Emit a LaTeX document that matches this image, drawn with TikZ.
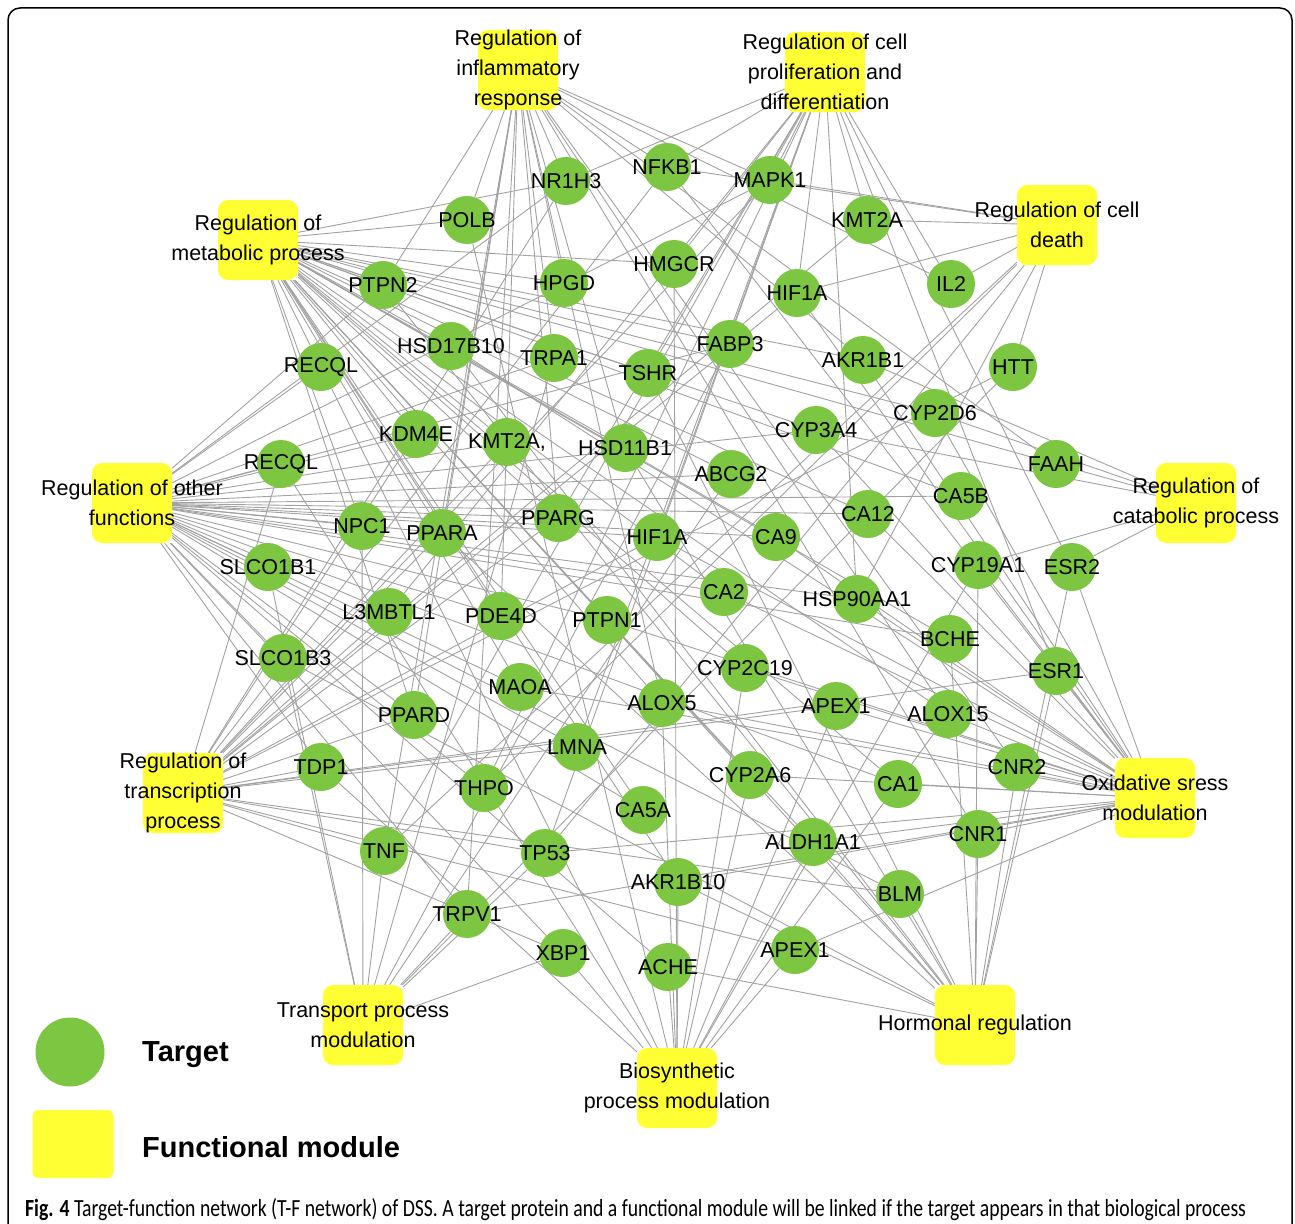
\documentclass[tikz,border=0pt]{standalone}
\usepackage{fontspec}
\setmainfont{Liberation Sans}
\newfontfamily\capfont{Carlito}
\usetikzlibrary{backgrounds}
\definecolor{targetgreen}{RGB}{125,198,66}
\definecolor{moduleyellow}{RGB}{255,255,51}
\definecolor{linkgray}{RGB}{162,162,162}
\begin{document}
\begin{tikzpicture}[x=1pt,y=-1pt]
% Set styles for Target and Module nodes
\tikzstyle{Target}=[circle,fill=targetgreen,inner sep=0pt,minimum size=48pt,font=\fontsize{21.5}{24}\selectfont]
\tikzstyle{Module}=[rectangle,rounded corners=10pt,fill=moduleyellow,minimum width=80pt,minimum height=80pt,inner sep=0pt]
\tikzstyle{Modtext}=[align=center,inner sep=0pt,font=\fontsize{21.5}{30}\selectfont]
\tikzstyle{Link}=[draw=linkgray,line width=0.9pt]
\tikzstyle{Legend}=[anchor=west,inner sep=0pt,font=\fontsize{29}{34}\selectfont\bfseries]
\useasboundingbox (0,0) rectangle (1295,1223);
\clip (0,0) rectangle (1295,1223);
\draw[line width=1.5pt,rounded corners=12pt] (8,8) rectangle (1292,1270);
% Functional modules
\foreach \n/\x/\y/\t in {
    inf/518/70/{Regulation of\\inflammatory\\response},
    pro/825/72/{Regulation of cell\\proliferation and\\differentiation},
    dth/1057/225/{Regulation of cell\\death},
    met/258/240/{Regulation of\\metabolic process},
    oth/132/503/{Regulation of other\\functions},
    cat/1196/503/{Regulation of\\catabolic process},
    trn/183/793/{Regulation of\\transcription\\process},
    oxi/1155/798/{Oxidative sress\\modulation},
    tra/363/1025/{Transport process\\modulation},
    bio/677/1088/{Biosynthetic\\process modulation},
    hor/975/1025/{Hormonal regulation}}
  {\node[Module] at (\x,\y) (\n) {};
   \node[Modtext] at (\x,\y) (\n-txt) {\t};}
% Targets
\foreach [count=\i] \x/\y/\t in {
    566/181/NR1H3, 667/167/NFKB1, 770/180/MAPK1, 467/220/POLB,
    867/220/KMT2A, 383/285/PTPN2, 564/283/HPGD, 674/264/HMGCR,
    797/293/HIF1A, 951/284/IL2, 321/367/RECQL, 451/346/HSD17B10,
    554/358/TRPA1, 648/373/TSHR, 730/344/FABP3, 863/360/AKR1B1,
    1013/367/HTT, 935/413/CYP2D6, 416/434/KDM4E, 507/442/{KMT2A,},
    625/448/HSD11B1, 816/430/CYP3A4, 1056/464/FAAH, 281/464/RECQL,
    731/474/ABCG2, 961/496/CA5B, 868/514/CA12, 362/526/NPC1,
    442/533/PPARA, 558/518/PPARG, 657/537/HIF1A, 776/537/CA9,
    978/565/CYP19A1, 1072/567/ESR2, 268/567/SLCO1B1, 724/592/CA2,
    857/599/HSP90AA1, 389/612/L3MBTL1, 501/616/PDE4D, 607/620/PTPN1,
    950/639/BCHE, 283/658/SLCO1B3, 1056/671/ESR1, 745/668/CYP2C19,
    520/687/MAOA, 836/706/APEX1, 948/714/ALOX15, 662/703/ALOX5,
    414/715/PPARD, 577/747/LMNA, 1017/767/CNR2, 898/784/CA1,
    750/775/CYP2A6, 321/767/TDP1, 484/788/THPO, 643/810/CA5A,
    978/834/CNR1, 813/842/ALDH1A1, 384/851/TNF, 545/853/TP53,
    678/882/AKR1B10, 900/894/BLM, 467/914/TRPV1, 795/950/APEX1,
    668/967/ACHE, 563/953/XBP1}
  \node[Target] at (\x,\y) (t\i) {\makebox[0pt]{\t}};
% Edges
\begin{scope}[on background layer]
\foreach \i/\ms in {
    1/{inf,met,oth,trn,pro}, 2/{inf,pro,dth,trn,oxi}, 3/{pro,dth,inf,oth,trn},
    4/{met,inf,bio}, 5/{dth,pro,trn}, 6/{met,inf,oth,hor}, 7/{inf,met},
    8/{met,bio,pro}, 9/{pro,dth,oxi,trn}, 10/{inf,pro,dth}, 11/{met,oth,bio},
    12/{met,hor,oxi}, 13/{inf,tra,oth}, 14/{hor,pro,met}, 15/{tra,met,oth},
    16/{met,oxi,cat,inf}, 17/{dth,tra,trn}, 18/{met,cat,oxi}, 19/{trn,oth,met},
    20/{trn,oth,met}, 21/{hor,met,inf}, 22/{met,cat,oth,oxi}, 23/{cat,inf,met},
    24/{oth,bio,trn}, 25/{tra,oth,met}, 26/{oth,met}, 27/{oth,met,oxi},
    28/{tra,met,oth}, 29/{met,trn,inf,oth,hor}, 30/{met,inf,trn,pro,oth},
    31/{pro,oxi,trn,oth}, 32/{oth,met,oxi}, 33/{hor,bio,cat,oxi},
    34/{hor,pro,cat,oxi}, 35/{tra,oth}, 36/{oth,met,oxi}, 37/{pro,dth,oth,oxi},
    38/{trn,oth,pro}, 39/{inf,met,oth}, 40/{met,oth,hor,oxi}, 41/{met,oth,hor},
    42/{tra,oth,hor}, 43/{hor,pro,trn,oxi}, 44/{met,bio,oxi}, 45/{met,oxi,oth},
    46/{oxi,trn,bio}, 47/{inf,oxi,bio,met}, 48/{inf,oxi,bio,met},
    49/{met,trn,oth,inf}, 50/{oth,trn,pro}, 51/{inf,oxi,hor}, 52/{oth,met,oxi},
    53/{met,bio,oxi}, 54/{trn,bio,oth}, 55/{pro,dth,oth}, 56/{met,oth},
    57/{hor,oxi,inf}, 58/{met,bio,oxi,hor}, 59/{inf,dth,pro,trn,tra},
    60/{dth,pro,trn,oxi,tra}, 61/{met,bio,hor,oxi}, 62/{oth,trn,hor},
    63/{tra,inf,oxi,oth}, 64/{oxi,trn,bio}, 65/{oth,hor,bio}, 66/{trn,oth,tra,bio}}
  \foreach \m in \ms
    \draw[Link] (t\i) -- (\m);
\end{scope}
% Legend
\node[Target,minimum size=69pt] at (70,1052) (lg-target) {};
\node[Legend] at (142,1055) (lg-target-txt) {Target};
\node[Module,minimum width=81pt,minimum height=68pt,rounded corners=6pt] at (73,1144) (lg-module) {};
\node[Legend] at (142,1147) (lg-module-txt) {Functional module};
% Caption
\node[anchor=base west,inner sep=0pt,font=\capfont\fontsize{19.7}{24}\selectfont] at (25,1216) (caption)
  {\scalebox{1}[1.25]{\textbf{Fig. 4} Target-function network (T-F network) of DSS. A target protein and a functional module will be linked if the target appears in that biological process}};
\end{tikzpicture}
\end{document}
